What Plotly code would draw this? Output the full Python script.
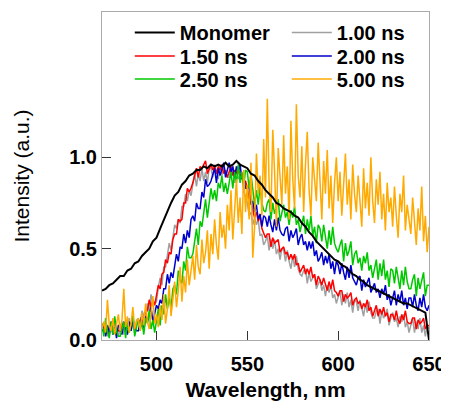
import numpy as np
import plotly.graph_objects as go

# wavelength grids (nm)
wl_2nm = np.arange(470, 651, 2)   # monomer
wl_1nm = np.arange(470, 651, 1)   # time-resolved spectra

monomer = [
    .27, .28, .30, .31, .33, .35, .35, .38, .39, .42,
    .43, .46, .48, .50, .54, .56, .61, .66, .71, .75,
    .79, .81, .85, .87, .90, .91, .93, .93, .95, .94,
    .96, .95, .96, .95, .97, .95, .96, .98, .96, .95,
    .94, .91, .90, .87, .85, .82, .80, .78, .75, .74,
    .72, .71, .70, .68, .67, .64, .62, .59, .57, .54,
    .52, .50, .48, .46, .44, .43, .41, .40, .38, .36,
    .35, .33, .32, .30, .29, .28, .27, .26, .25, .24,
    .23, .22, .21, .20, .20, .19, .18, .17, .16, .15,
    .00]

ns_100 = [
    .09, .04, .07, .02, .08, .06, .11, .04, .07, .02,
    .06, .10, .03, .10, .06, .12, .05, .09, .04, .11,
    .11, .08, .16, .13, .11, .20, .16, .25, .20, .20,
    .21, .29, .34, .30, .40, .40, .47, .53, .49, .56,
    .63, .61, .66, .64, .73, .73, .80, .76, .82, .79,
    .86, .91, .84, .91, .87, .94, .87, .92, .86, .94,
    .94, .89, .96, .91, .88, .95, .90, .97, .91, .89,
    .89, .93, .95, .86, .93, .88, .90, .91, .81, .79,
    .75, .68, .70, .63, .67, .63, .66, .57, .58, .52,
    .54, .57, .49, .55, .50, .55, .47, .50, .44, .50,
    .49, .43, .49, .43, .39, .46, .40, .46, .39, .36,
    .35, .38, .39, .31, .37, .32, .34, .36, .28, .31,
    .33, .27, .30, .24, .30, .26, .30, .23, .25, .20,
    .23, .27, .19, .25, .20, .26, .18, .22, .15, .22,
    .21, .16, .22, .17, .13, .20, .15, .21, .15, .12,
    .12, .16, .17, .09, .16, .12, .14, .17, .08, .12,
    .15, .10, .12, .07, .13, .10, .14, .07, .10, .04,
    .08, .12, .04, .10, .06, .12, .04, .08, .02, .08,
    .06]

ns_150 = [
    .07, .04, .09, .05, .03, .08, .06, .11, .06, .05,
    .05, .08, .09, .04, .09, .07, .09, .11, .06, .09,
    .11, .10, .13, .11, .16, .16, .22, .18, .22, .19,
    .24, .30, .28, .36, .37, .44, .42, .48, .47, .55,
    .58, .58, .66, .65, .66, .75, .75, .83, .81, .83,
    .86, .91, .94, .89, .95, .94, .96, .98, .91, .94,
    .96, .93, .95, .91, .95, .93, .96, .91, .93, .89,
    .92, .95, .90, .93, .91, .95, .89, .91, .86, .87,
    .83, .77, .79, .71, .67, .70, .65, .68, .61, .58,
    .56, .58, .58, .51, .56, .53, .54, .55, .48, .50,
    .51, .47, .48, .44, .47, .44, .47, .41, .42, .37,
    .39, .41, .36, .39, .36, .40, .34, .36, .30, .35,
    .33, .30, .34, .30, .27, .32, .28, .33, .27, .26,
    .24, .27, .27, .21, .25, .23, .24, .26, .19, .22,
    .23, .20, .21, .17, .20, .18, .22, .16, .18, .13,
    .16, .19, .13, .17, .14, .18, .13, .15, .10, .14,
    .14, .11, .16, .11, .09, .14, .11, .16, .10, .09,
    .09, .12, .12, .06, .11, .09, .10, .12, .06, .08,
    .08]

ns_200 = [
    .05, .09, .02, .08, .04, .10, .03, .07, .01, .08,
    .08, .03, .10, .06, .03, .10, .05, .12, .07, .05,
    .05, .10, .13, .05, .13, .10, .14, .18, .10, .15,
    .19, .17, .22, .20, .28, .28, .36, .31, .37, .34,
    .41, .47, .43, .51, .50, .58, .53, .60, .56, .66,
    .68, .65, .75, .72, .72, .81, .78, .88, .84, .85,
    .87, .91, .94, .86, .94, .90, .93, .97, .89, .94,
    .97, .92, .95, .89, .95, .92, .96, .88, .90, .83,
    .83, .84, .74, .76, .70, .74, .66, .69, .62, .68,
    .67, .62, .68, .63, .59, .66, .60, .67, .60, .58,
    .57, .61, .62, .54, .60, .56, .58, .61, .52, .56,
    .58, .52, .54, .49, .54, .50, .54, .46, .49, .43,
    .45, .48, .41, .46, .42, .47, .39, .43, .36, .43,
    .41, .36, .42, .37, .33, .40, .34, .41, .34, .32,
    .30, .34, .35, .27, .33, .29, .32, .34, .26, .29,
    .31, .26, .28, .23, .28, .25, .30, .22, .25, .19,
    .23, .27, .19, .25, .21, .27, .19, .23, .17, .23,
    .23, .18, .25, .19, .16, .23, .18, .25, .18, .16,
    .19]

ns_250 = [
    .09, .02, .12, .05, .01, .10, .03, .13, .05, .02,
    .02, .07, .10, .01, .10, .04, .08, .13, .02, .08,
    .12, .05, .10, .03, .12, .09, .16, .06, .11, .04,
    .10, .17, .08, .19, .14, .25, .17, .23, .17, .28,
    .30, .25, .38, .33, .31, .43, .38, .51, .45, .45,
    .47, .55, .61, .52, .65, .62, .69, .77, .67, .76,
    .83, .77, .82, .76, .86, .83, .90, .81, .86, .80,
    .87, .92, .83, .92, .86, .96, .86, .92, .84, .93,
    .92, .83, .91, .81, .74, .82, .74, .84, .75, .71,
    .70, .75, .77, .66, .75, .69, .73, .77, .65, .70,
    .74, .67, .70, .63, .71, .67, .73, .63, .66, .59,
    .64, .68, .58, .66, .60, .68, .57, .62, .53, .63,
    .61, .54, .63, .56, .50, .60, .52, .62, .53, .50,
    .48, .52, .55, .43, .53, .46, .49, .54, .41, .47,
    .49, .42, .45, .38, .46, .42, .48, .38, .41, .34,
    .39, .44, .33, .42, .35, .44, .33, .38, .29, .39,
    .38, .31, .40, .33, .28, .38, .30, .40, .32, .28,
    .28, .33, .36, .24, .34, .28, .32, .37, .24, .30,
    .30]

ns_500 = [
    .06, .10, .04, .22, .08, .05, .12, .03, .09, .14,
    .05, .11, .28, .07, .13, .04, .09, .18, .06, .10,
    .12, .05, .15, .08, .20, .10, .06, .16, .24, .09,
    .14, .07, .19, .11, .25, .09, .17, .30, .13, .22,
    .32, .18, .27, .40, .21, .35, .26, .44, .30, .38,
    .46, .33, .52, .40, .36, .55, .42, .48, .60, .39,
    .58, .47, .66, .52, .44, .70, .56, .63, .50, .74,
    .60, .82, .55, .71, .88, .64, .78, .58, .93, .70,
    .85, .66, .97, .45, .62, 1.02, .80, .90, .68, 1.10,
    .78, 1.32, .84, .70, 1.15, .92, .62, 1.05, .86, .74,
    1.12, .80, .95, .66, 1.20, .88, .72, 1.29, .90, .78,
    1.06, .70, .96, 1.14, .82, .68, 1.00, .88, .76, 1.08,
    .84, .66, .98, .80, 1.04, .72, .90, .64, .86, 1.00,
    .76, .92, .68, .84, 1.02, .74, .88, .66, .96, .80,
    .70, .90, .78, .62, .94, .72, .86, .68, 1.00, .76,
    .64, .88, .74, .92, .66, .80, .60, .86, .70, .78,
    .62, .84, .68, .56, .80, .70, .90, .60, .74, .66,
    .58, .78, .64, .52, .72, .60, .84, .54, .68, .48,
    .62]

# (name, x, y, colour, width, legend row, rank) in drawing order
series = [
    ("1.00 ns", wl_1nm, ns_100, "#a0a0a0", 1.5, "legend", 2),
    ("1.50 ns", wl_1nm, ns_150, "#ff0000", 1.5, "legend2", 1),
    ("2.00 ns", wl_1nm, ns_200, "#0000cc", 1.5, "legend2", 2),
    ("2.50 ns", wl_1nm, ns_250, "#00c800", 1.5, "legend3", 1),
    ("5.00 ns", wl_1nm, ns_500, "#ffaa00", 1.5, "legend3", 2),
    ("Monomer", wl_2nm, monomer, "#000000", 2, "legend", 1),
]

fig = go.Figure()
for name, x, y, col, w, leg, rank in series:
    fig.add_trace(go.Scatter(x=x, y=y, mode="lines", name=name,
                             line=dict(color=col, width=w),
                             legend=leg, legendrank=rank))

axis_common = dict(showline=True, linecolor="#aaaaaa", linewidth=1, mirror=True,
                   ticks="inside", ticklen=9, tickcolor="#333333",
                   showgrid=False, zeroline=False,
                   tickfont=dict(family="Liberation Sans", size=20, color="black", weight="bold"))

fig.update_xaxes(range=[470, 650], tickvals=[500, 550, 600, 650],
                 ticklabeloverflow="allow", ticklabelstandoff=6,
                 title=dict(text="Wavelength, nm", standoff=8,
                            font=dict(family="Liberation Sans", size=21, color="black", weight="bold")),
                 **axis_common)
fig.update_yaxes(range=[0, 1.795], tickvals=[0, 0.5, 1.0], tickformat=".1f",
                 title=dict(text="Intensity (a.u.)", standoff=33,
                            font=dict(family="Liberation Sans", size=21, color="black")),
                 **axis_common)

# one legend per row of two entries
leg_common = dict(orientation="h", x=0.085, xanchor="left", yanchor="top",
                  entrywidth=102, entrywidthmode="pixels", itemwidth=40,
                  bgcolor="rgba(0,0,0,0)",
                  font=dict(family="Liberation Sans", size=20, color="black", weight="bold"))

# page body has an 8 px margin, so the figure is kept inside the window
fig.update_layout(
    width=441, height=393,
    margin=dict(l=94, r=16, t=3, b=58),
    plot_bgcolor="white", paper_bgcolor="white",
    legend=dict(y=0.997, **leg_common),
    legend2=dict(y=0.925, **leg_common),
    legend3=dict(y=0.855, **leg_common),
)

fig.write_html("out.html")
